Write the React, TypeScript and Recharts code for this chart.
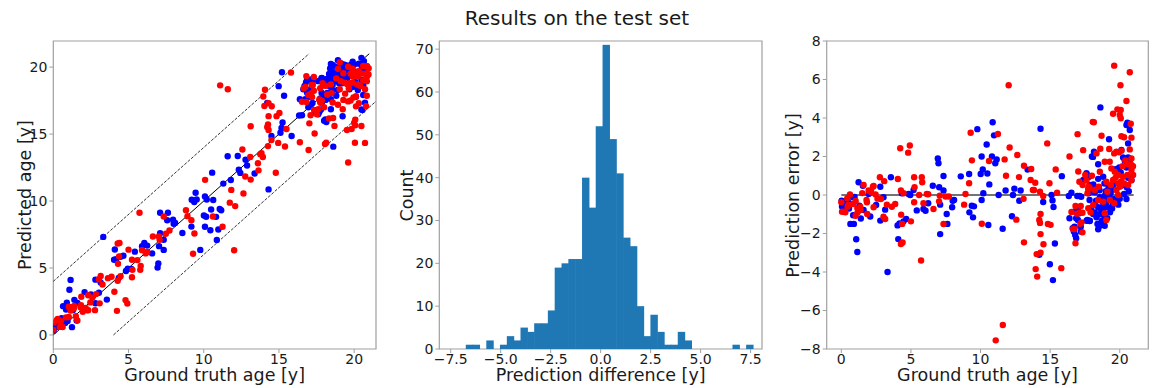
import React from 'react';
import {
  ScatterChart,
  Scatter,
  BarChart,
  Bar,
  XAxis,
  YAxis,
  ReferenceLine,
  ReferenceArea,
} from 'recharts';

const FONT = '"DejaVu Sans", sans-serif';
const SPINE = '#a0a0a0';
const TXT = '#1a1a1a';
const RED = '#ff0000';
const BLUE = '#0000ff';
const HIST = '#1f77b4';

// [ground truth age, prediction error (truth - predicted)]
const blueSamples: [number, number][] = [
  [0.02, -0.3], [0.05, -0.6], [0.15, -0.42], [0.2, -0.55], [0.3, -0.64], [0.31, -0.73], [0.36, -0.3],
  [0.45, -0.34], [0.55, -0.7], [0.57, -0.43], [0.65, -1.5], [0.79, -0.1], [0.85, -1.05], [0.9, -1.5],
  [0.95, -0.1], [1.07, -2.3], [1.15, -2.96], [1.24, 0.66], [1.3, -0.55], [1.34, -0.7], [1.4, -1.22],
  [1.55, 0.48], [1.6, -0.78],
  [1.96, 0.05], [2.08, -1.12], [2.5, -0.52], [2.8, 0.43], [2.8, -1.33], [3.03, -0.12], [3.15, -0.76],
  [3.32, -4.0], [3.56, 0.92], [4.04, -1.58], [4.09, -2.29], [4.18, -1.48], [4.35, 0.09], [4.47, -1.37],
  [4.66, -1.25], [4.83, 0.05], [4.95, 0.0], [5.19, 0.26], [5.42, -0.8], [5.9, -0.73], [6.05, -0.82],
  [6.24, -0.43], [6.57, 0.48], [6.93, 1.9], [6.98, 1.65], [7.03, 0.4], [7.1, -0.5], [7.1, -2.03],
  [7.34, 0.99], [7.34, 0.23], [7.57, -0.99], [7.62, -1.5], [7.96, -0.64], [8.0, -0.3], [8.1, -0.26],
  [8.58, 0.97], [9.18, 1.09], [9.2, -0.9], [9.37, -0.56], [9.46, -1.16], [9.53, -0.59], [9.77, 3.42],
  [10.01, 1.09], [10.08, 2.0], [10.08, -0.26], [10.16, 1.33], [10.2, 0.09], [10.44, 2.62], [10.49, 1.12],
  [10.56, -1.56], [10.63, 0.55], [10.82, 2.0], [10.87, 3.78], [10.97, 3.1], [11.06, 1.65], [11.16, 1.85],
  [11.3, 0.0], [11.59, -1.75], [11.8, 0.23], [12.26, -1.1], [12.33, 0.0], [12.43, 0.33], [12.78, -0.3],
  [12.88, 0.23], [13.38, 1.32], [14.31, 3.44], [14.22, -3.1], [14.5, -0.36], [14.98, -3.6], [15.1, 0.0],
  [15.17, -0.28], [15.2, -4.42], [15.24, -0.62], [15.34, -2.52], [15.84, 0.98],
  [16.34, -0.05], [16.53, 0.12], [16.95, -0.05], [17.11, -0.05], [17.38, 0.78], [17.67, 1.04], [17.79, 0.95],
  [18.15, 2.25], [18.0, 2.0], [17.98, 0.35], [18.03, 0.17], [17.75, 0.09], [17.23, -0.09], [17.83, -0.26],
  [17.95, -0.69], [16.39, -1.21], [16.75, -0.86], [16.99, -0.78], [17.1, -0.95], [16.87, -1.21], [17.67, -1.3],
  [17.83, -1.35], [16.75, -1.65], [16.62, -1.73], [17.2, -1.65], [16.7, -1.9], [16.8, -2.08], [16.87, -2.25],
  [17.2, -1.9], [17.0, -1.3],
  [18.61, 4.55], [20.55, 3.76], [20.72, 3.38], [20.48, 3.64], [19.23, 2.9], [20.6, 2.68], [18.08, 1.98],
  [20.12, 2.34], [20.24, 1.95], [20.36, 1.78], [20.6, 1.95], [20.72, 1.69], [20.84, 0.77], [20.48, 1.43],
  [19.96, 1.43], [20.07, 1.17], [19.69, 1.34], [19.53, 0.56], [18.45, 1.6], [18.45, 0.84], [18.81, 0.95],
  [17.74, 0.95], [17.85, 0.52], [17.61, 1.13], [18.21, 0.14], [18.57, -0.12], [18.92, -0.03], [19.28, -0.12],
  [19.64, -0.21], [19.88, -0.12], [19.52, -0.47], [19.16, -0.64], [18.81, -0.55], [18.45, -0.64], [18.21, -0.9],
  [18.33, -1.16], [18.57, -1.6], [18.45, -1.78], [18.92, -1.6], [18.09, -0.99], [17.85, -1.34], [17.61, -1.34],
  [20.12, 0.49], [20.31, 0.05], [20.48, -0.21],
  [18.3, -0.3], [18.7, -0.3], [19.0, -0.45], [19.4, -0.3], [19.8, -0.4], [20.0, -0.2], [18.6, -1.0],
  [18.9, -1.1], [19.1, -1.2], [19.3, -0.9], [18.7, -1.35], [18.4, -1.5], [19.45, -0.7], [19.0, 0.2],
  [19.2, 0.4], [19.6, 0.3], [20.6, 0.9], [20.5, 0.4], [20.65, 0.2], [18.5, 0.4], [18.9, 0.6], [18.65, -0.75],
  [19.9, -0.5], [19.35, 0.1], [18.2, -0.5], [18.8, -0.8], [19.05, -0.25], [18.1, 0.55], [18.55, 0.25],
];

const redSamples: [number, number][] = [
  [0.0, -0.38], [0.05, -0.87], [0.22, -0.87], [0.29, -0.9], [0.43, -0.17], [0.45, -0.61], [0.5, -0.52],
  [0.62, 0.03], [0.84, -0.47], [1.03, -1.08], [1.03, -0.31], [1.15, -0.68], [1.17, -0.9], [1.36, -0.61],
  [1.38, -0.78], [1.5, 0.1], [1.6, 0.52], [1.81, -0.26], [1.84, -0.38], [1.86, -0.99], [1.96, 0.23],
  [2.15, 0.14], [2.27, 0.43], [2.32, -0.64], [2.32, 0.47], [2.46, 0.03], [2.6, -0.19], [2.77, 0.92],
  [2.84, -0.21], [3.03, -1.13], [3.08, 0.72], [3.15, -1.25], [3.27, -0.5], [3.63, -0.61], [3.87, -0.47],
  [4.06, 0.83], [4.23, 2.43], [4.3, -1.02], [4.37, -1.5], [4.28, -2.55], [4.4, -2.47], [4.28, 0.23],
  [4.47, 0.09], [4.8, 2.2], [4.92, 2.57], [5.0, -1.37], [5.23, 0.92], [5.26, 0.4], [5.23, -0.38],
  [5.59, 0.0], [5.73, -3.4], [5.78, 0.92], [5.81, 0.66], [5.9, -0.43], [6.14, 0.05], [6.24, 0.04],
  [6.62, -0.73], [7.02, -0.33], [7.07, -0.03], [7.34, -1.51], [7.48, -0.08], [7.72, -0.08],
  [8.82, -0.5], [8.92, 0.05], [9.18, 0.61], [9.29, 3.23], [9.38, 1.8], [10.09, -1.49], [10.61, 1.77],
  [11.25, 3.17], [11.09, -7.55], [11.6, -6.75], [11.73, 1.85], [11.83, 1.0], [12.02, 5.7], [12.09, 2.47],
  [12.57, -1.28], [12.64, 2.08], [12.76, 0.93], [13.09, -0.2], [13.12, 1.52], [13.12, -2.46], [13.6, 0.78],
  [13.64, 1.35], [13.76, 0.26], [13.93, 0.64], [13.84, 0.26], [14.03, -3.07], [13.96, -3.85], [14.07, -4.24],
  [14.27, -1.45], [14.22, -1.3], [14.31, -0.99], [14.31, -2.03], [14.31, -3.0], [14.5, -0.05], [14.52, -2.56],
  [14.79, 2.68], [14.84, -1.5], [14.95, 0.61], [15.03, -1.55], [15.4, 1.33], [15.5, 0.12], [15.8, -3.8],
  [14.27, 0.17],
  [16.39, 2.0], [16.53, -0.88], [16.65, -1.77], [16.82, -2.51], [16.97, 3.16], [17.02, 1.22], [17.1, 0.69],
  [17.13, -0.9], [17.25, -1.42], [17.32, -1.94], [17.33, 0.52], [17.37, 2.33], [17.52, 1.04], [17.61, 0.75],
  [17.73, 0.31], [17.76, 0.43], [16.82, -0.57], [16.94, -0.97], [17.2, -0.57], [17.32, -0.92], [17.17, -1.49],
  [16.75, -1.77], [18.06, 3.8],
  [19.6, 6.72], [20.72, 6.38], [20.05, 5.7], [20.48, 4.88], [19.83, 4.45], [20.07, 4.42], [20.0, 4.16],
  [19.52, 4.22], [20.07, 3.99], [18.14, 3.78], [20.79, 3.7], [18.69, 3.08], [20.12, 3.05], [20.31, 3.0],
  [20.84, 2.98], [19.24, 2.39], [20.72, 2.37], [19.76, 2.25], [19.95, 2.22], [20.12, 2.3], [19.6, 2.16],
  [20.84, 1.9], [19.28, 1.73], [18.92, 1.73], [18.33, 2.16], [18.57, 1.21], [20.84, 1.56], [20.84, 1.3],
  [20.96, 1.04], [20.84, 0.78], [20.55, 1.04], [20.24, 0.95], [19.88, 1.04], [19.52, 0.78], [19.36, 0.52],
  [19.04, 0.69], [18.49, 0.43], [18.21, 0.26], [17.85, 0.35], [17.68, 0.09], [19.76, 0.26], [19.88, 0.0],
  [19.28, -0.26], [19.11, 0.17], [18.81, -0.35], [18.45, -0.26], [18.92, -0.95], [19.04, -1.3], [18.09, -0.52],
  [17.74, -0.69], [19.6, -0.43], [20.0, 0.43], [20.31, 0.6], [20.6, 0.52], [19.4, 1.38], [19.64, 1.21],
  [20.2, 1.5], [20.4, 1.8], [19.9, 0.6], [20.1, 0.7], [20.6, 1.6], [20.95, 1.5], [19.7, 0.9],
  [17.9, -0.9], [18.6, 2.4], [18.0, 1.0],
];

// Histogram of prediction differences (bin centres and counts)
const histCenters = [
  -6.559, -6.217, -5.875, -5.533, -5.191, -4.849, -4.507, -4.165, -3.823, -3.481, -3.139, -2.797, -2.455,
  -2.113, -1.771, -1.429, -1.087, -0.745, -0.403, -0.061, 0.281, 0.623, 0.965, 1.307, 1.649, 1.991, 2.333,
  2.675, 3.017, 3.359, 3.701, 4.043, 4.385, 4.727, 5.069, 5.411, 5.753, 6.095, 6.437, 6.779, 7.121, 7.463,
];
const histCounts = [
  1, 1, 0, 2, 0, 1, 3, 2, 5, 4, 6, 6, 9, 19, 20, 21, 21, 40, 33, 52, 71, 49, 41, 26, 24, 10, 3, 8, 4, 1, 1,
  4, 2, 0, 0, 0, 0, 0, 0, 1, 0, 1,
];
const histBinWidth = 0.342;

const ageTicks = [0, 5, 10, 15, 20];
const predTicks = [0, 5, 10, 15, 20];
const diffTicks = [-7.5, -5, -2.5, 0, 2.5, 5, 7.5];
const countTicks = [0, 10, 20, 30, 40, 50, 60, 70];
const errTicks = [-8, -6, -4, -2, 0, 2, 4, 6, 8];

const TITLE = 'Results on the test set';

const toPred = (s: [number, number][]) => s.map(([gt, err]) => ({ x: gt, y: +(gt - err).toFixed(2) }));
const toErr = (s: [number, number][]) => s.map(([gt, err]) => ({ x: gt, y: err }));
const histData = histCenters.map((c, i) => ({ center: c, count: histCounts[i] }));

const minus = (v: number, digits: number) => (v < 0 ? '\u2212' : '') + Math.abs(v).toFixed(digits);

const TICK_FONT = 14;
const LABEL_FONT = 17.5;
const tickStyle = { fill: TXT, fontSize: TICK_FONT, fontFamily: FONT };
const TICK_SIZE = 4;

const dot = (color: string) => (p: any) => <circle cx={p.cx} cy={p.cy} r={3.2} fill={color} />;

const xLabel = (text: string, cx: number, y: number) => () => (
  <text x={cx} y={y} textAnchor="middle" fontSize={LABEL_FONT} fontFamily={FONT} fill={TXT}>
    {text}
  </text>
);
const yLabel = (text: string, x: number, cy: number) => () => (
  <text
    x={x}
    y={cy}
    transform={`rotate(-90 ${x} ${cy})`}
    textAnchor="middle"
    dominantBaseline="central"
    fontSize={LABEL_FONT}
    fontFamily={FONT}
    fill={TXT}
  >
    {text}
  </text>
);

// Histogram bar: widened by a fraction of a pixel so neighbouring bins join without seams
const HistBar = (p: any) => {
  if (!p.height || p.height <= 0) return <g />;
  return <rect x={p.x - 0.3} y={p.y} width={p.width + 0.6} height={p.height} fill={HIST} />;
};

const H = 388;
const TOP = 41;
const XAXIS_H = 39;

const P1 = { left: 0, width: 390, yw: 53.3, right: 14 };
const P2 = { left: 380, width: 390, yw: 59.3, right: 8 };
const P3 = { left: 770, width: 384, yw: 56.7, right: 5.7 };

const d1x: [number, number] = [0, 21.45];
const d1y: [number, number] = [-1.05, 21.95];
const d2x: [number, number] = [-8.07, 8.07];
const d2y: [number, number] = [0, 71.9];
const d3x: [number, number] = [-1.05, 22.05];
const d3y: [number, number] = [-8, 8];

function Panel1() {
  const plotW = P1.width - P1.yw - P1.right;
  return (
    <ScatterChart width={P1.width} height={H} margin={{ top: TOP, right: P1.right, bottom: 0, left: 0 }}>
      <XAxis
        type="number"
        dataKey="x"
        domain={d1x}
        ticks={ageTicks}
        interval={0}
        allowDataOverflow
        height={XAXIS_H}
        axisLine={false}
        tickLine={{ stroke: SPINE }}
        tickSize={TICK_SIZE}
        tickMargin={1}
        tick={tickStyle}
        label={xLabel('Ground truth age [y]', P1.yw + plotW / 2, 381)}
      />
      <YAxis
        type="number"
        dataKey="y"
        domain={d1y}
        ticks={predTicks}
        interval={0}
        allowDataOverflow
        width={P1.yw}
        axisLine={false}
        tickLine={{ stroke: SPINE }}
        tickSize={TICK_SIZE}
        tickMargin={2}
        tick={tickStyle}
        label={yLabel('Predicted age [y]', 25, 195)}
      />
      <ReferenceArea x1={d1x[0]} x2={d1x[1]} y1={d1y[0]} y2={d1y[1]} fill="none" stroke={SPINE} strokeWidth={1.2} ifOverflow="visible" />
      <Scatter data={toPred(blueSamples)} fill={BLUE} shape={dot(BLUE)} isAnimationActive={false} />
      <Scatter data={toPred(redSamples)} fill={RED} shape={dot(RED)} isAnimationActive={false} />
      <ReferenceLine segment={[{ x: 0, y: 0 }, { x: 21, y: 21 }]} stroke="#000" strokeWidth={1} ifOverflow="visible" />
      <ReferenceLine segment={[{ x: 0, y: 4 }, { x: 17, y: 21 }]} stroke="#333" strokeWidth={1} strokeDasharray="3 1.5" ifOverflow="visible" />
      <ReferenceLine segment={[{ x: 4, y: 0 }, { x: 21.45, y: 17.45 }]} stroke="#333" strokeWidth={1} strokeDasharray="3 1.5" ifOverflow="visible" />
    </ScatterChart>
  );
}

function Panel2() {
  const plotW = P2.width - P2.yw - P2.right;
  const pxPerUnit = plotW / (d2x[1] - d2x[0]);
  const barSize = histBinWidth * pxPerUnit - 0.03;
  return (
    <BarChart
      width={P2.width}
      height={H}
      data={histData}
      margin={{ top: TOP, right: P2.right, bottom: 0, left: 0 }}
      barCategoryGap={0}
      barGap={0}
    >
      <XAxis
        type="number"
        dataKey="center"
        domain={d2x}
        ticks={diffTicks}
        interval={0}
        allowDataOverflow
        height={XAXIS_H}
        axisLine={false}
        tickLine={{ stroke: SPINE }}
        tickSize={TICK_SIZE}
        tickMargin={1}
        tick={tickStyle}
        tickFormatter={(v: number) => minus(v, 1)}
        label={xLabel('Prediction difference [y]', P2.yw + plotW / 2, 381)}
      />
      <YAxis
        type="number"
        domain={d2y}
        ticks={countTicks}
        interval={0}
        allowDataOverflow
        width={P2.yw}
        axisLine={false}
        tickLine={{ stroke: SPINE }}
        tickSize={TICK_SIZE}
        tickMargin={2}
        tick={tickStyle}
        label={yLabel('Count', 26.7, 195.5)}
      />
      <Bar dataKey="count" fill={HIST} barSize={barSize} shape={HistBar} isAnimationActive={false} />
      <ReferenceArea x1={d2x[0]} x2={d2x[1]} y1={d2y[0]} y2={d2y[1]} fill="none" stroke={SPINE} strokeWidth={1.2} ifOverflow="visible" />
    </BarChart>
  );
}

function Panel3() {
  const plotW = P3.width - P3.yw - P3.right;
  return (
    <ScatterChart width={P3.width} height={H} margin={{ top: TOP, right: P3.right, bottom: 0, left: 0 }}>
      <XAxis
        type="number"
        dataKey="x"
        domain={d3x}
        ticks={ageTicks}
        interval={0}
        allowDataOverflow
        height={XAXIS_H}
        axisLine={false}
        tickLine={{ stroke: SPINE }}
        tickSize={TICK_SIZE}
        tickMargin={1}
        tick={tickStyle}
        label={xLabel('Ground truth age [y]', P3.yw + plotW / 2, 381)}
      />
      <YAxis
        type="number"
        dataKey="y"
        domain={d3y}
        ticks={errTicks}
        interval={0}
        allowDataOverflow
        width={P3.yw}
        axisLine={false}
        tickLine={{ stroke: SPINE }}
        tickSize={TICK_SIZE}
        tickMargin={2}
        tick={tickStyle}
        tickFormatter={(v: number) => minus(v, 0)}
        label={yLabel('Prediction error [y]', 23.3, 195.5)}
      />
      <ReferenceArea x1={d3x[0]} x2={d3x[1]} y1={d3y[0]} y2={d3y[1]} fill="none" stroke={SPINE} strokeWidth={1.2} ifOverflow="visible" />
      <Scatter data={toErr(blueSamples)} fill={BLUE} shape={dot(BLUE)} isAnimationActive={false} />
      <Scatter data={toErr(redSamples)} fill={RED} shape={dot(RED)} isAnimationActive={false} />
      <ReferenceLine segment={[{ x: 0, y: 0 }, { x: 21, y: 0 }]} stroke="#444" strokeWidth={1.5} ifOverflow="visible" />
    </ScatterChart>
  );
}

export default function App() {
  return (
    <div style={{ position: 'absolute', left: 0, top: 0, width: 1154, height: H, background: '#fff', fontFamily: FONT }}>
      <svg width={1154} height={36} style={{ position: 'absolute', left: 0, top: 0 }}>
        <text x={577} y={25} textAnchor="middle" fontSize={20} fontFamily={FONT} fill={TXT}>
          {TITLE}
        </text>
      </svg>
      <div style={{ position: 'absolute', left: P1.left, top: 0 }}>
        <Panel1 />
      </div>
      <div style={{ position: 'absolute', left: P2.left, top: 0 }}>
        <Panel2 />
      </div>
      <div style={{ position: 'absolute', left: P3.left, top: 0 }}>
        <Panel3 />
      </div>
    </div>
  );
}
